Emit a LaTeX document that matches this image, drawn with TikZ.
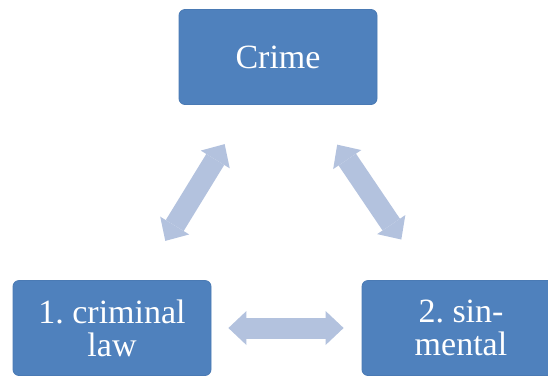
\documentclass[tikz,border=0pt]{standalone}
\usepackage{fontspec}
\setmainfont{Liberation Serif}
\usetikzlibrary{arrows.meta}
\frenchspacing
\definecolor{boxblue}{HTML}{4F81BD}
\definecolor{boxline}{HTML}{4A7AB4}
\definecolor{arrowblue}{HTML}{B3C2DE}
\tikzset{topic/.style={rectangle, rounded corners=6pt, fill=boxblue, draw=boxline,
      line width=0.8pt, text=white, align=center, inner sep=0pt,
      minimum width=198pt, minimum height=95pt, font=\fontsize{34}{33}\selectfont}}
\tikzset{dblarrow/.style={draw=arrowblue, line width=21pt,
      arrows={Triangle[width=34pt,length=18pt,line width=0pt]-Triangle[width=34pt,length=18pt,line width=0pt]}}}

\begin{document}
\begin{tikzpicture}[x=1pt, y=-1pt]
    \useasboundingbox (0,0) rectangle (548,376);
    \node[topic] (crime) at (278,57) {Crime};
    \node[topic] (law) at (112,328) {1. criminal\\law};
    \node[topic] (sin) at (461,328) {2. sin-\\mental};
    \draw[dblarrow, shorten <=46pt, shorten >=46pt] (crime) -- (law);
    \draw[dblarrow, shorten <=48pt, shorten >=49pt] (crime) -- (sin);
    \draw[dblarrow, shorten <=17pt, shorten >=18pt] (law) -- (sin);
  \end{tikzpicture}
\end{document}
